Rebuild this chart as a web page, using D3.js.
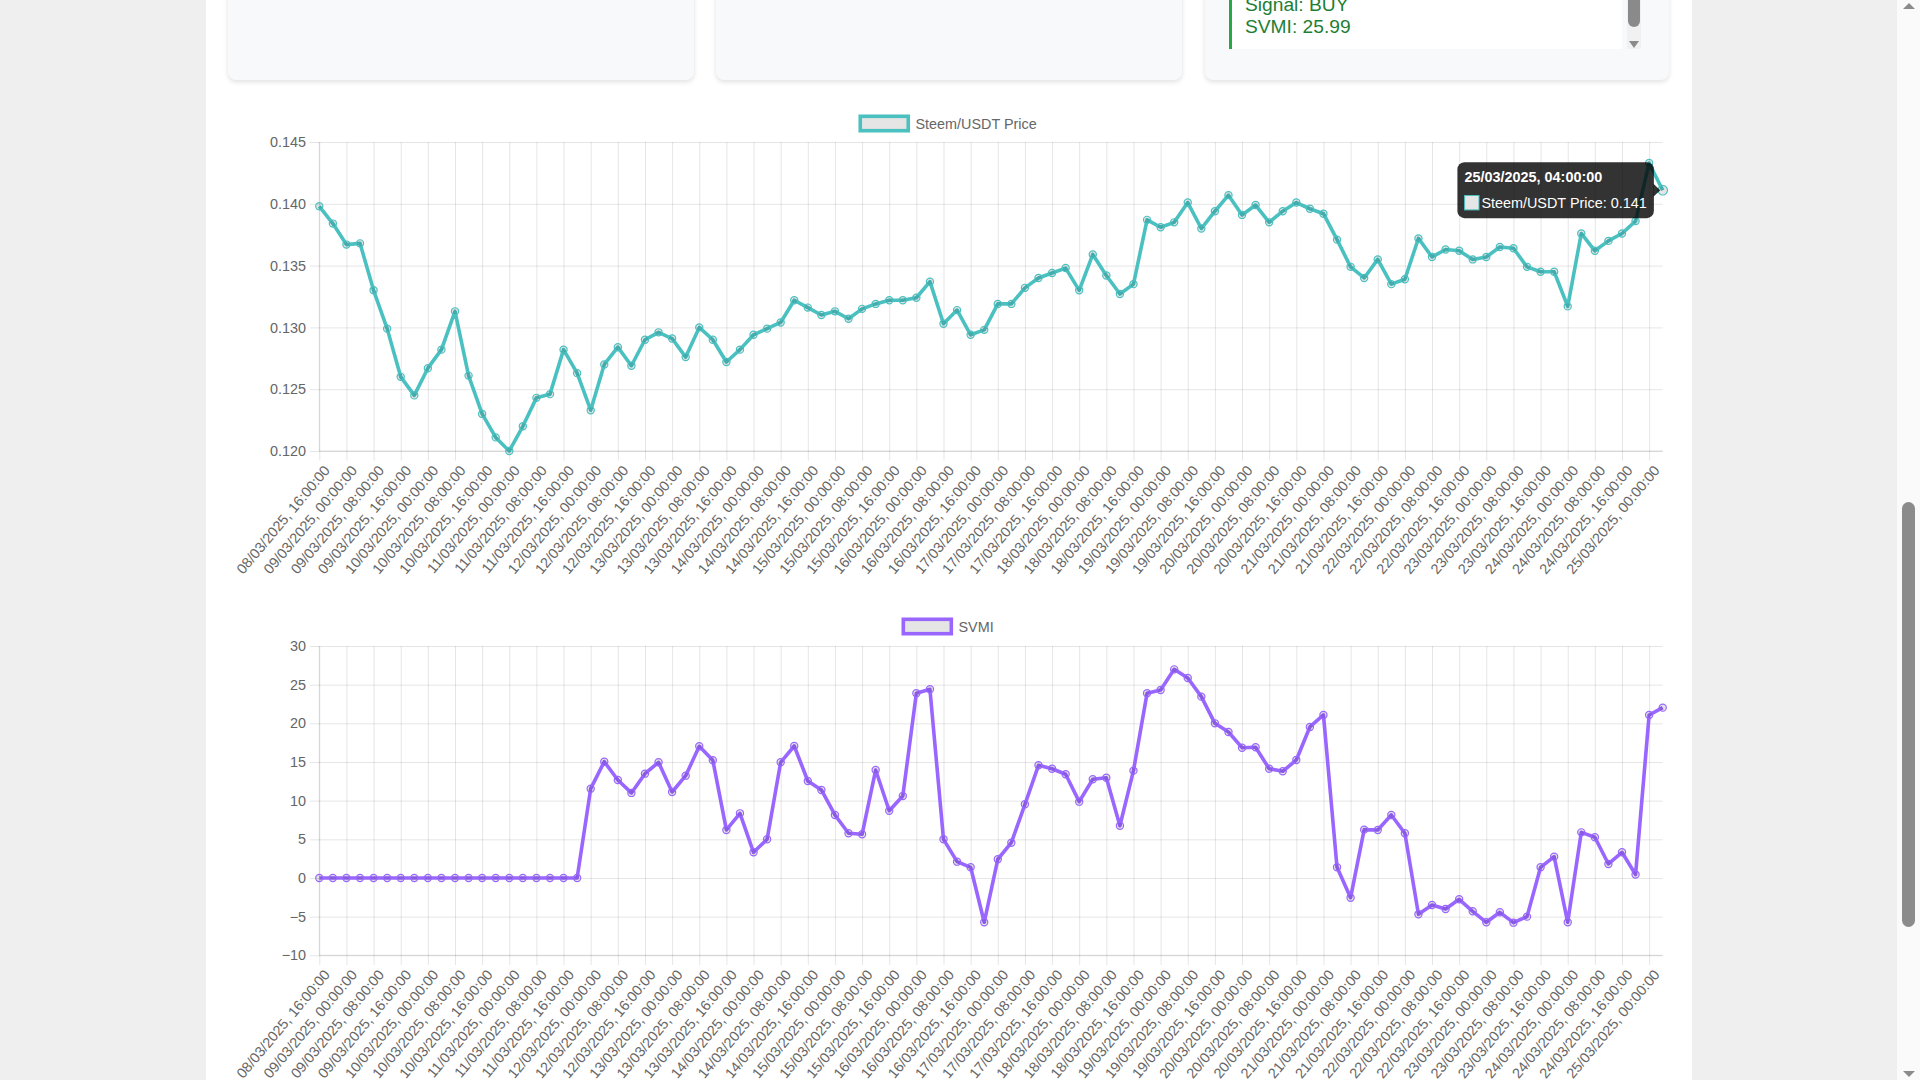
<!DOCTYPE html>
<html>
<head>
<meta charset="utf-8">
<script src="https://cdn.jsdelivr.net/npm/d3@7"></script>
<style>
html, body { margin: 0; padding: 0; overflow: hidden; }
body { width: 1920px; height: 1080px; background: #efefef; position: relative;
       font-family: "Liberation Sans", Arial, sans-serif; }
#page { position: absolute; left: 206px; top: 0; width: 1486px; height: 1080px; background: #fff; }
.card { position: absolute; top: -40px; height: 120px; background: #f8f9fa; border-radius: 8px;
        box-shadow: 0 2px 5px rgba(0,0,0,0.12); }
#signal { position: absolute; left: 1229px; top: -20px; width: 393px; height: 69px; background: #fff;
          border-left: 3px solid #28a745; box-sizing: border-box; padding-left: 13px;
          color: #1e7e34; font-size: 19.2px; line-height: 21.5px; padding-top: 14px; }
#miniTrack { position: absolute; left: 1627px; top: 0; width: 14px; height: 49px; background: #f1f1f1; }
#miniThumb { position: absolute; left: 1628px; top: -10px; width: 12px; height: 37px; background: #8a8a8a; border-radius: 6px; }
#miniArrow { position: absolute; left: 1629px; top: 41px; width: 0; height: 0;
             border-left: 5px solid transparent; border-right: 5px solid transparent; border-top: 7px solid #8a8a8a; }
#track { position: absolute; left: 1897px; top: 0; width: 23px; height: 1080px; background: #fafafa; }
#thumb { position: absolute; left: 1902px; top: 502px; width: 13px; height: 425px; background: #8b8b8b; border-radius: 7px; }
#upArrow { position: absolute; left: 1903px; top: 3px; width: 0; height: 0;
           border-left: 6px solid transparent; border-right: 6px solid transparent; border-bottom: 6px solid #8b8b8b; }
#downArrow { position: absolute; left: 1903px; top: 1071px; width: 0; height: 0;
             border-left: 6px solid transparent; border-right: 6px solid transparent; border-top: 6px solid #8b8b8b; }
svg { position: absolute; left: 0; top: 0; }
</style>
</head>
<body>
<div id="page"></div>
<div class="card" style="left:228px;width:466px"></div>
<div class="card" style="left:716px;width:466px"></div>
<div class="card" style="left:1205px;width:464px"></div>
<div id="signal">Signal: BUY<br>SVMI: 25.99</div>
<div id="miniTrack"></div><div id="miniThumb"></div><div id="miniArrow"></div>
<div id="track"></div><div id="thumb"></div><div id="upArrow"></div><div id="downArrow"></div>
<script>
// categories: 4-hour candles
var labels = [
  "08/03/2025, 16:00:00","08/03/2025, 20:00:00",
  "09/03/2025, 00:00:00","09/03/2025, 04:00:00","09/03/2025, 08:00:00","09/03/2025, 12:00:00","09/03/2025, 16:00:00","09/03/2025, 20:00:00",
  "10/03/2025, 00:00:00","10/03/2025, 04:00:00","10/03/2025, 08:00:00","10/03/2025, 12:00:00","10/03/2025, 16:00:00","10/03/2025, 20:00:00",
  "11/03/2025, 00:00:00","11/03/2025, 04:00:00","11/03/2025, 08:00:00","11/03/2025, 12:00:00","11/03/2025, 16:00:00","11/03/2025, 20:00:00",
  "12/03/2025, 00:00:00","12/03/2025, 04:00:00","12/03/2025, 08:00:00","12/03/2025, 12:00:00","12/03/2025, 16:00:00","12/03/2025, 20:00:00",
  "13/03/2025, 00:00:00","13/03/2025, 04:00:00","13/03/2025, 08:00:00","13/03/2025, 12:00:00","13/03/2025, 16:00:00","13/03/2025, 20:00:00",
  "14/03/2025, 00:00:00","14/03/2025, 04:00:00","14/03/2025, 08:00:00","14/03/2025, 12:00:00","14/03/2025, 16:00:00","14/03/2025, 20:00:00",
  "15/03/2025, 00:00:00","15/03/2025, 04:00:00","15/03/2025, 08:00:00","15/03/2025, 12:00:00","15/03/2025, 16:00:00","15/03/2025, 20:00:00",
  "16/03/2025, 00:00:00","16/03/2025, 04:00:00","16/03/2025, 08:00:00","16/03/2025, 12:00:00","16/03/2025, 16:00:00","16/03/2025, 20:00:00",
  "17/03/2025, 00:00:00","17/03/2025, 04:00:00","17/03/2025, 08:00:00","17/03/2025, 12:00:00","17/03/2025, 16:00:00","17/03/2025, 20:00:00",
  "18/03/2025, 00:00:00","18/03/2025, 04:00:00","18/03/2025, 08:00:00","18/03/2025, 12:00:00","18/03/2025, 16:00:00","18/03/2025, 20:00:00",
  "19/03/2025, 00:00:00","19/03/2025, 04:00:00","19/03/2025, 08:00:00","19/03/2025, 12:00:00","19/03/2025, 16:00:00","19/03/2025, 20:00:00",
  "20/03/2025, 00:00:00","20/03/2025, 04:00:00","20/03/2025, 08:00:00","20/03/2025, 12:00:00","20/03/2025, 16:00:00","20/03/2025, 20:00:00",
  "21/03/2025, 00:00:00","21/03/2025, 04:00:00","21/03/2025, 08:00:00","21/03/2025, 12:00:00","21/03/2025, 16:00:00","21/03/2025, 20:00:00",
  "22/03/2025, 00:00:00","22/03/2025, 04:00:00","22/03/2025, 08:00:00","22/03/2025, 12:00:00","22/03/2025, 16:00:00","22/03/2025, 20:00:00",
  "23/03/2025, 00:00:00","23/03/2025, 04:00:00","23/03/2025, 08:00:00","23/03/2025, 12:00:00","23/03/2025, 16:00:00","23/03/2025, 20:00:00",
  "24/03/2025, 00:00:00","24/03/2025, 04:00:00","24/03/2025, 08:00:00","24/03/2025, 12:00:00","24/03/2025, 16:00:00","24/03/2025, 20:00:00",
  "25/03/2025, 00:00:00","25/03/2025, 04:00:00"
];

// Steem/USDT close price
var priceValues = [
  0.1398,0.1384,0.1367,0.1368,0.1330,0.1299,0.1260,0.1245,0.1267,0.1282,
  0.1313,0.1261,0.1230,0.1211,0.1200,0.1220,0.1243,0.1246,0.1282,0.1263,
  0.1233,0.1270,0.1284,0.1269,0.1290,0.1296,0.1291,0.1276,0.1300,0.1290,
  0.1272,0.1282,0.1294,0.1299,0.1304,0.1322,0.1316,0.1310,0.1313,0.1307,
  0.1315,0.1319,0.1322,0.1322,0.1324,0.1337,0.1303,0.1314,0.1294,0.1298,
  0.1319,0.1319,0.1332,0.1340,0.1344,0.1348,0.1330,0.1359,0.1342,0.1327,
  0.1335,0.1387,0.1381,0.1385,0.1401,0.1380,0.1394,0.1407,0.1391,0.1399,
  0.1385,0.1394,0.1401,0.1396,0.1392,0.1371,0.1349,0.1340,0.1355,0.1335,
  0.1339,0.1372,0.1357,0.1363,0.1362,0.1355,0.1357,0.1365,0.1364,0.1349,
  0.1345,0.1345,0.1317,0.1376,0.1362,0.1370,0.1376,0.1386,0.1433,0.1411
];

// SVMI indicator
var svmiValues = [
  0,0,0,0,0,0,0,0,0,0,
  0,0,0,0,0,0,0,0,0,0,
  11.55,15.04,12.67,11.0,13.49,14.96,11.12,13.23,17.03,15.22,
  6.21,8.36,3.32,5.0,14.96,17.07,12.54,11.38,8.15,5.78,
  5.65,13.96,8.7,10.6,23.88,24.4,5.0,2.11,1.38,-5.73,
  2.42,4.56,9.53,14.57,14.13,13.41,9.87,12.76,12.97,6.76,
  13.88,23.88,24.31,26.98,25.86,23.45,20.0,18.88,16.85,16.9,
  14.13,13.8,15.26,19.53,21.08,1.38,-2.55,6.25,6.2,8.15,
  5.78,-4.7,-3.49,-4.01,-2.76,-4.31,-5.73,-4.44,-5.78,-5.0,
  1.38,2.76,-5.73,5.9,5.26,1.81,3.32,0.45,21.08,22.03
];

var priceTicks = [0.120, 0.125, 0.130, 0.135, 0.140, 0.145];
var svmiTicks = [-10, -5, 0, 5, 10, 15, 20, 25, 30];

// layout
var left = 319.3, right = 1662.7, legendCenter = 948.5;
var fs = 14.4, textCol = "#666", gridCol = "rgba(0,0,0,0.1)";

var svg = d3.select("body").append("svg").attr("width", 1897).attr("height", 1080)
  .style("font-family", '"Liberation Sans", Arial, sans-serif');

var x = d3.scalePoint().domain(labels).range([left, right]);
var xTicks = labels.filter((d, i) => i % 2 === 0);

function drawChart(cfg) {
  var g = svg.append("g");
  var y = d3.scaleLinear().domain(cfg.domain).range([cfg.bottom, cfg.top]);
  var h = cfg.bottom - cfg.top, w = right - left;

  // horizontal grid + y labels
  var ya = g.append("g").attr("transform", "translate(" + right + ",0)")
    .call(d3.axisLeft(y).tickValues(cfg.ticks).tickSize(w + 9.6).tickPadding(3.6).tickFormat(cfg.fmt));
  ya.select(".domain").remove();
  ya.selectAll("line").attr("stroke", gridCol);
  ya.selectAll("text").attr("fill", textCol).style("font-size", fs + "px");

  // vertical grid + rotated x labels
  var xa = g.append("g").attr("transform", "translate(0," + cfg.top + ")")
    .call(d3.axisBottom(x).tickValues(xTicks).tickSize(h + 9.6));
  xa.select(".domain").remove();
  xa.selectAll("line").attr("stroke", gridCol);
  xa.selectAll("text").attr("fill", textCol).style("font-size", fs + "px")
    .attr("y", null).attr("dy", "0.71em").attr("text-anchor", "end")
    .attr("transform", "translate(3," + (h + 13.2) + ") rotate(-50)");

  // axis borders
  g.append("line").attr("x1", left).attr("x2", left).attr("y1", cfg.top).attr("y2", cfg.bottom)
    .attr("stroke", "rgba(0,0,0,0.12)");
  g.append("line").attr("x1", left).attr("x2", right).attr("y1", cfg.bottom).attr("y2", cfg.bottom)
    .attr("stroke", "rgba(0,0,0,0.12)");

  // legend
  var lg = g.append("g");
  var lt = lg.append("text").text(cfg.name).attr("fill", textCol).style("font-size", fs + "px")
    .attr("dominant-baseline", "central").attr("y", cfg.legendY);
  var tw = lt.node().getComputedTextLength();
  var lx = legendCenter - (48 + 7.2 + tw) / 2;
  lt.attr("x", lx + 55.2);
  lg.append("rect").attr("x", lx).attr("y", cfg.legendY - 7.2).attr("width", 48).attr("height", 14.4)
    .attr("fill", "rgba(0,0,0,0.1)").attr("stroke", cfg.color).attr("stroke-width", 3.6);

  // line + points
  var line = d3.line().x((d, i) => x(labels[i])).y(d => y(d));
  g.append("path").datum(cfg.values).attr("d", line).attr("fill", "none")
    .attr("stroke", cfg.color).attr("stroke-width", 3.6).attr("stroke-linejoin", "round");
  g.selectAll("circle.pt").data(cfg.values).join("circle").attr("class", "pt")
    .attr("cx", (d, i) => x(labels[i])).attr("cy", d => y(d))
    .attr("r", (d, i) => cfg.hover === i ? 4.8 : 3.6)
    .attr("fill", "rgba(0,0,0,0.1)").attr("stroke", cfg.color).attr("stroke-width", 1.2);

  if (cfg.hover != null) tooltip(g, cfg, y);
}

function tooltip(g, cfg, y) {
  var i = cfg.hover;
  var tipX = x(labels[i]) - 2.4, tipY = y(cfg.values[i]);
  var tg = g.append("g");
  var bg = tg.append("rect").attr("fill", "rgba(0,0,0,0.8)").attr("rx", 7.2);
  var caret = tg.append("path").attr("fill", "rgba(0,0,0,0.8)");
  var title = tg.append("text").text(labels[i]).attr("fill", "#fff").style("font-size", fs + "px")
    .style("font-weight", "bold").attr("dominant-baseline", "central").attr("y", tipY - 13);
  var body = tg.append("text").text(cfg.name + ": " + d3.format(".3f")(cfg.values[i])).attr("fill", "#fff")
    .style("font-size", fs + "px").attr("dominant-baseline", "central").attr("y", tipY + 12.5);
  var bw = Math.max(title.node().getComputedTextLength(), body.node().getComputedTextLength() + 16.8) + 14.4;
  var bx = tipX - 6.4 - bw;
  bg.attr("x", bx).attr("y", tipY - 28).attr("width", bw).attr("height", 56);
  caret.attr("d", "M" + (bx + bw - 0.5) + "," + (tipY - 6.5) + "L" + tipX + "," + tipY + "L" + (bx + bw - 0.5) + "," + (tipY + 6.5) + "Z");
  title.attr("x", bx + 7.2);
  tg.append("rect").attr("x", bx + 7.2).attr("y", tipY + 5.3).attr("width", 14.4).attr("height", 14.4)
    .attr("fill", "#e6e6e6").attr("stroke", cfg.color).attr("stroke-width", 1);
  body.attr("x", bx + 7.2 + 16.8);
}

drawChart({ name: "Steem/USDT Price", values: priceValues, color: "rgb(75,192,192)",
  domain: [0.12, 0.145], ticks: priceTicks, fmt: d3.format(".3f"),
  top: 142, bottom: 451, legendY: 123.5, hover: 99 });

drawChart({ name: "SVMI", values: svmiValues, color: "rgb(153,102,255)",
  domain: [-10, 30], ticks: svmiTicks, fmt: d3.format("d"),
  top: 646, bottom: 955.3, legendY: 626.5, hover: null });
</script>
</body>
</html>
